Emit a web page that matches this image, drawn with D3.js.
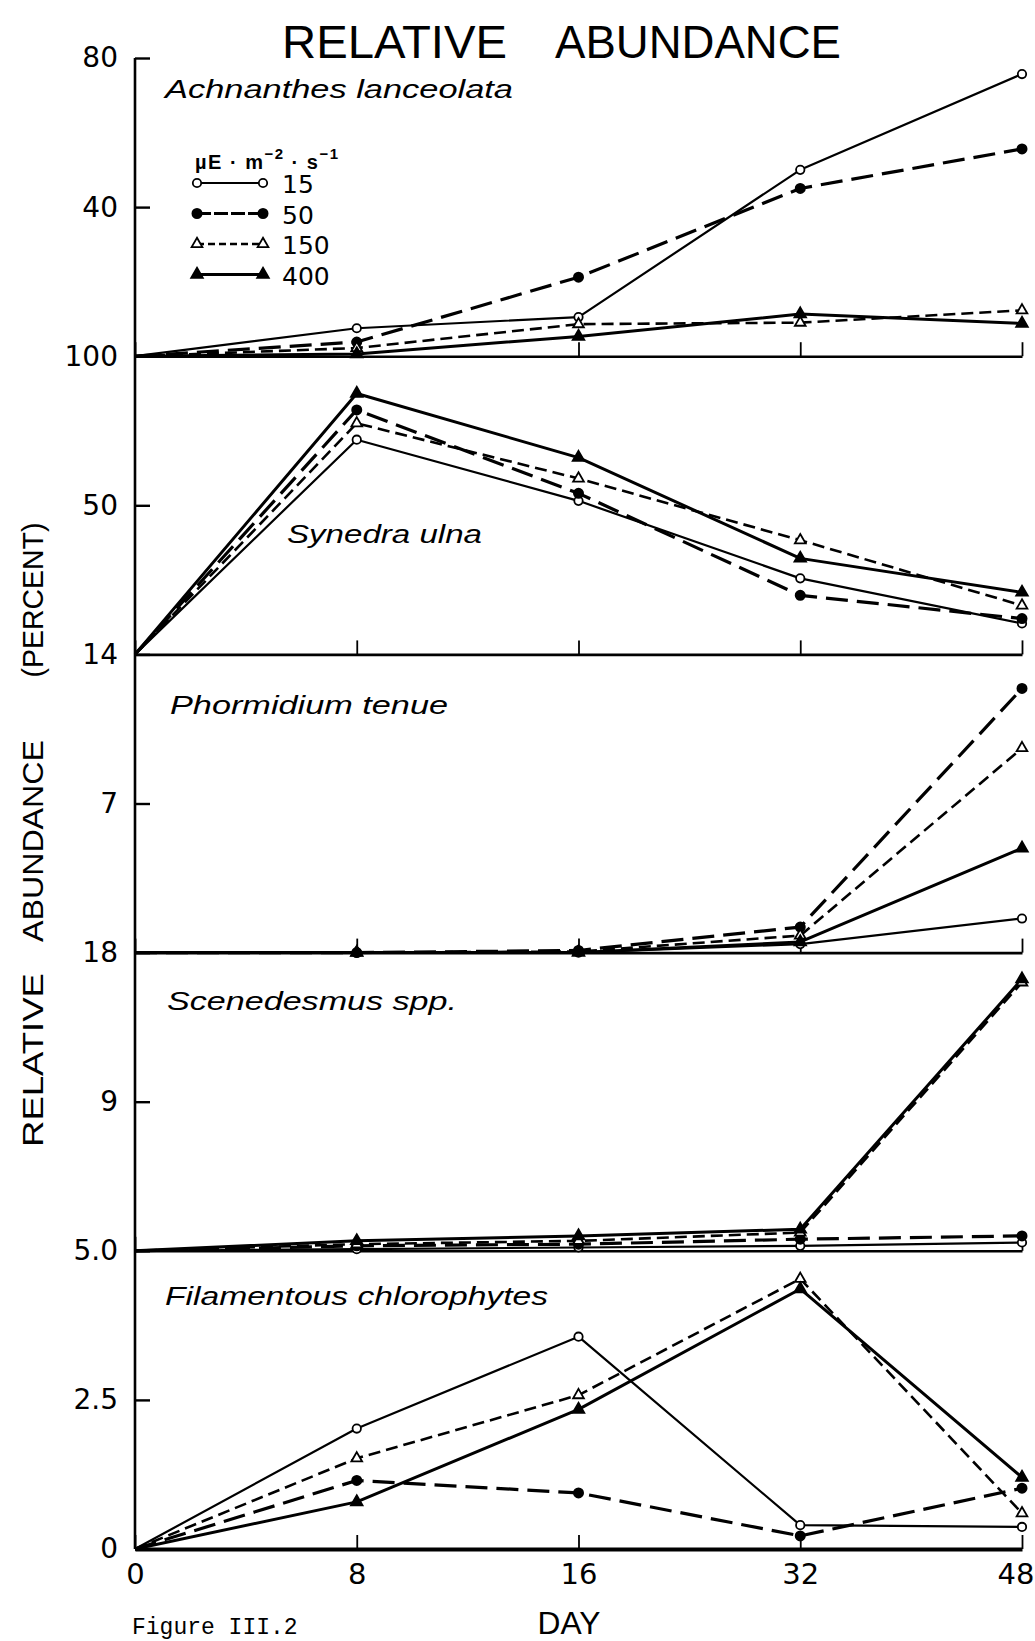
<!DOCTYPE html>
<html>
<head>
<meta charset="utf-8">
<script src="https://cdn.jsdelivr.net/npm/d3@7"></script>
<style>
  html, body { margin: 0; padding: 0; background: #fff; }
  svg { display: block; }
</style>
</head>
<body>
<svg id="chart" width="1035" height="1641"></svg>
<script>
// Sampling days and light treatments (µE·m-2·s-1)
const days = [0, 8, 16, 32, 48];
const xTickLabels = ["0", "8", "16", "32", "48"];
const lightLevels = ["15", "50", "150", "400"];

// One panel per taxon, stacked top to bottom
const species = ["Achnanthes lanceolata", "Synedra ulna", "Phormidium tenue", "Scenedesmus spp.", "Filamentous chlorophytes"];
const yMax = [80, 100, 14, 18, 5.0];
const yTickValues = [[80, 40], [100, 50], [14, 7], [18, 9], [5.0, 2.5, 0]];
const yTickLabels = [["80", "40"], ["100", "50"], ["14", "7"], ["18", "9"], ["5.0", "2.5", "0"]];

// Relative abundance (%), rows in the order of lightLevels
const achnanthes = [
  [0, 7.5, 10.5, 50.0, 75.7],
  [0, 3.8, 21.2, 45.0, 55.6],
  [0, 2.2, 8.6, 9.0, 12.3],
  [0, 0.6, 5.3, 11.3, 8.8]
];
const synedra = [
  [0, 72.0, 51.5, 25.5, 10.4],
  [0, 82.0, 54.0, 19.8, 12.0],
  [0, 77.5, 59.0, 38.3, 16.4],
  [0, 87.5, 66.0, 32.2, 20.8]
];
const phormidium = [
  [0, 0, 0, 0.4, 1.6],
  [0, 0, 0.1, 1.2, 12.4],
  [0, 0, 0.05, 0.8, 9.6],
  [0, 0, 0, 0.5, 4.9]
];
const scenedesmus = [
  [0, 0.1, 0.2, 0.3, 0.5],
  [0, 0.3, 0.4, 0.7, 0.9],
  [0, 0.4, 0.6, 1.1, 16.2],
  [0, 0.6, 0.9, 1.3, 16.4]
];
const chlorophytes = [
  [0, 2.02, 3.56, 0.40, 0.37],
  [0, 1.15, 0.94, 0.22, 1.02],
  [0, 1.52, 2.58, 4.53, 0.60],
  [0, 0.79, 2.34, 4.36, 1.20]
];
const panelData = [achnanthes, synedra, phormidium, scenedesmus, chlorophytes];

// ---- layout ----
const left = 135, right = 1022, top0 = 58, panelH = 298.2;
const svg = d3.select("#chart");
svg.append("rect").attr("width", 1035).attr("height", 1641).attr("fill", "#fff");

const x = d3.scalePoint().domain(days).range([left, right]);

// line / marker style per light level
const lineStyle = [
  { dash: null,   width: 2.2, shape: "circle",   filled: false },
  { dash: "22,9", width: 3.2, shape: "circle",   filled: true  },
  { dash: "12,6", width: 2.6, shape: "triangle", filled: false },
  { dash: null,   width: 3.0, shape: "triangle", filled: true  }
];

function drawMarker(g, cx, cy, st) {
  if (st.shape === "circle") {
    g.append("circle").attr("cx", cx).attr("cy", cy).attr("r", st.filled ? 4.6 : 4.2)
      .attr("fill", st.filled ? "#000" : "#fff").attr("stroke", "#000").attr("stroke-width", 1.8);
  } else {
    g.append("path").attr("d", d3.symbol(d3.symbolTriangle, st.filled ? 58 : 50)())
      .attr("transform", `translate(${cx},${cy})`)
      .attr("fill", st.filled ? "#000" : "#fff").attr("stroke", "#000").attr("stroke-width", 1.8);
  }
}

const tickFont = "'DejaVu Sans', 'Liberation Sans', sans-serif";

panelData.forEach((rows, i) => {
  const y = d3.scaleLinear().domain([0, yMax[i]]).range([top0 + (i + 1) * panelH, top0 + i * panelH]);
  const g = svg.append("g");

  // baseline with upward ticks at each sampling day
  const xa = g.append("g").attr("transform", `translate(0,${y(0)})`)
    .call(d3.axisBottom(x).tickSizeInner(-14).tickSizeOuter(0).tickPadding(14)
      .tickFormat((d, j) => i === panelData.length - 1 ? xTickLabels[j] : ""));
  xa.select(".domain").attr("stroke", "#000").attr("stroke-width", i === 4 ? 4 : 2.6);
  xa.selectAll(".tick line").attr("stroke", "#000").attr("stroke-width", 1.8);
  xa.selectAll(".tick text").attr("fill", "#000").style("font-family", tickFont).style("font-size", "29px");
  // last day label sits flush with the right edge
  xa.selectAll(".tick text").filter(d => d === days[days.length - 1])
    .attr("text-anchor", "end").attr("x", 12);

  // inward ticks on the value axis
  const ya = g.append("g").attr("transform", `translate(${left},0)`)
    .call(d3.axisLeft(y).tickValues(yTickValues[i]).tickSize(-15).tickPadding(17)
      .tickFormat((d, j) => yTickLabels[i][j]));
  ya.select(".domain").remove();
  ya.selectAll(".tick line").attr("stroke", "#000").attr("stroke-width", 2.4);
  ya.selectAll(".tick text").attr("fill", "#000").style("font-family", tickFont).style("font-size", "28px");

  // series lines
  const line = d3.line().x((d, j) => x(days[j])).y(d => y(d));
  rows.forEach((vals, k) => {
    const st = lineStyle[k];
    g.append("path").datum(vals).attr("d", line)
      .attr("fill", "none").attr("stroke", "#000").attr("stroke-width", st.width)
      .attr("stroke-dasharray", st.dash).attr("stroke-linejoin", "round");
  });
  // markers (day 0 points sit on the axis corner)
  rows.forEach((vals, k) => {
    vals.forEach((v, j) => { if (j > 0) drawMarker(g, x(days[j]), y(v), lineStyle[k]); });
  });
});

// main vertical axis
svg.append("line").attr("x1", left).attr("x2", left).attr("y1", top0).attr("y2", top0 + 5 * panelH)
  .attr("stroke", "#000").attr("stroke-width", 2.6);

// taxon names
const spLabel = [
  { x: 165, y: 98,   len: 348 },
  { x: 287, y: 543,  len: 195 },
  { x: 170, y: 714,  len: 278 },
  { x: 167, y: 1010, len: 290 },
  { x: 165, y: 1305, len: 383 }
];
species.forEach((s, i) => {
  svg.append("text").attr("x", spLabel[i].x).attr("y", spLabel[i].y)
    .attr("textLength", spLabel[i].len).attr("lengthAdjust", "spacingAndGlyphs")
    .style("font-family", "'Liberation Sans', Arial, sans-serif").style("font-style", "italic")
    .style("font-size", "25px").text(s);
});

// title
const titleFont = "'Liberation Sans', Arial, sans-serif";
svg.append("text").attr("x", 282).attr("y", 58).attr("textLength", 225).attr("lengthAdjust", "spacingAndGlyphs")
  .style("font-family", titleFont).style("font-size", "46px").text("RELATIVE");
svg.append("text").attr("x", 555).attr("y", 58).attr("textLength", 286).attr("lengthAdjust", "spacingAndGlyphs")
  .style("font-family", titleFont).style("font-size", "46px").text("ABUNDANCE");

// vertical axis title
const yTitle = [
  { t: "RELATIVE", cy: 1060, len: 174 },
  { t: "ABUNDANCE", cy: 841, len: 202 },
  { t: "(PERCENT)", cy: 600, len: 155 }
];
yTitle.forEach(p => {
  svg.append("text").attr("transform", `translate(43,${p.cy}) rotate(-90)`)
    .attr("text-anchor", "middle").attr("textLength", p.len).attr("lengthAdjust", "spacingAndGlyphs")
    .style("font-family", titleFont).style("font-size", "29px").text(p.t);
});

// x axis title
svg.append("text").attr("x", 569).attr("y", 1634).attr("text-anchor", "middle")
  .attr("textLength", 63).attr("lengthAdjust", "spacingAndGlyphs")
  .style("font-family", titleFont).style("font-size", "32px").text("DAY");

// figure caption (typewritten)
svg.append("text").attr("x", 132).attr("y", 1634)
  .style("font-family", "'Liberation Mono', 'DejaVu Sans Mono', monospace").style("font-size", "23px")
  .text("Figure III.2");

// legend
const lg = svg.append("g");
const hdr = lg.append("text").attr("x", 195).attr("y", 169)
  .style("font-family", titleFont).style("font-size", "20px").style("font-weight", "bold")
  .style("letter-spacing", "1.5px");
hdr.append("tspan").text("µE · m");
hdr.append("tspan").attr("dy", -10).style("font-size", "15px").text("−2");
hdr.append("tspan").attr("dy", 10).text(" · s");
hdr.append("tspan").attr("dy", -10).style("font-size", "15px").text("−1");

lightLevels.forEach((lv, k) => {
  const st = lineStyle[k];
  const ry = 183 + k * 30.5;
  lg.append("line").attr("x1", 197).attr("x2", 263).attr("y1", ry).attr("y2", ry)
    .attr("stroke", "#000").attr("stroke-width", st.width)
    .attr("stroke-dasharray", st.dash ? (k === 1 ? "14,3" : "7,4") : null);
  drawMarker(lg, 197, ry, st);
  drawMarker(lg, 263, ry, st);
  lg.append("text").attr("x", 282).attr("y", ry + 10)
    .style("font-family", tickFont).style("font-size", "25px").text(lv);
});
</script>
</body>
</html>
